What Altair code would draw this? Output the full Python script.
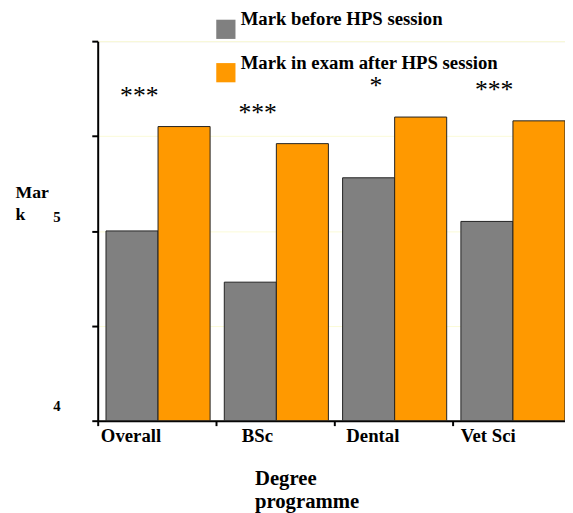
import altair as alt
import pandas as pd

categories = ["Overall", "BSc", "Dental", "Vet Sci"]
series = ["Mark before HPS session", "Mark in exam after HPS session"]
before = [5.00, 4.73, 5.28, 5.05]
after = [5.55, 5.46, 5.60, 5.58]
significance = ["***", "***", "*", "***"]
y_ticks = [4, 4.5, 5, 5.5, 6]

rows = []
for c, b, a in zip(categories, before, after):
    rows.append({"programme": c, "series": series[0], "mark": b})
    rows.append({"programme": c, "series": series[1], "mark": a})
bars_df = pd.DataFrame(rows)
sig_df = pd.DataFrame({"programme": categories, "mark": after, "sig": significance})

FONT = "Liberation Serif"

x_scale = alt.Scale(domain=categories, paddingInner=0.12, paddingOuter=0.035, align=1)
y_scale = alt.Scale(domain=[4, 6], nice=False, zero=False)

x_label_offset = {
    "condition": [
        {"test": "datum.value == 'BSc'", "value": -35},
        {"test": "datum.value == 'Dental'", "value": -49},
        {"test": "datum.value == 'Vet Sci'", "value": -53},
    ],
    "value": -58,
}

bars = alt.Chart(bars_df).mark_bar(stroke="#222222", strokeWidth=1).encode(
    x=alt.X("programme:N", scale=x_scale, sort=categories,
            axis=alt.Axis(title=["Degree", "programme"], labelAngle=0,
                          labelAlign="left", labelBaseline="top", labelOffset=x_label_offset,
                          labelPadding=1, bandPosition=-0.075,
                          labelFont=FONT, labelFontSize=19, labelFontWeight="bold",
                          labelColor="black",
                          titleFont=FONT, titleFontSize=21, titleFontWeight="bold",
                          titleColor="black", titleAlign="left", titleAnchor="start",
                          titleBaseline="top", titleX=159, titleY=48, titleLineHeight=23,
                          domainColor="black", domainWidth=2, tickColor="black",
                          tickWidth=2, tickSize=5, grid=False)),
    xOffset=alt.XOffset("series:N", sort=series, scale=alt.Scale(paddingInner=0, paddingOuter=0)),
    y=alt.Y("mark:Q", scale=y_scale,
            axis=alt.Axis(values=y_ticks, title=["Mar", "k"],
                          labelExpr="datum.value == 4 ? '4' : datum.value == 5 ? '5' : ''",
                          labelFont=FONT, labelFontSize=15, labelFontWeight="bold",
                          labelColor="black", labelPadding=32, labelOffset=-15,
                          titleFont=FONT, titleFontSize=18, titleFontWeight="bold",
                          titleColor="black", titleAngle=0, titleAlign="left",
                          titleBaseline="top", titleX=-84, titleY=145, titleLineHeight=22,
                          domainColor="black", domainWidth=2, tickColor="black",
                          tickWidth=2, tickSize=6,
                          grid=True, gridColor="#fbfbd6", gridWidth=1)),
    y2=alt.datum(4),
    color=alt.Color("series:N", sort=series,
                    scale=alt.Scale(domain=series, range=["#808080", "#ff9900"]),
                    legend=alt.Legend(title=None, orient="none", legendX=120, legendY=-22,
                                      symbolType="square", symbolSize=380,
                                      symbolStrokeWidth=0, labelFont=FONT,
                                      labelFontSize=19, labelFontWeight="bold",
                                      labelColor="black", labelOffset=5,
                                      labelBaseline="bottom",
                                      rowPadding=15, padding=0, labelLimit=400)),
)

stars = alt.Chart(sig_df).mark_text(font=FONT, fontSize=26, color="black",
                                    baseline="alphabetic", dx=-19, dy=-23).encode(
    x=alt.X("programme:N", scale=x_scale, sort=categories),
    y=alt.Y("mark:Q", scale=y_scale),
    text="sig:N",
)

chart = alt.layer(bars, stars).properties(
    width=474, height=385,
    autosize=alt.AutoSizeParams(type="none"),
    padding={"left": 91, "top": 30, "right": 0, "bottom": 90},
).configure_view(stroke=None).configure(background="white")

chart.save("out.html", embed_options={"renderer": "svg", "actions": False})
